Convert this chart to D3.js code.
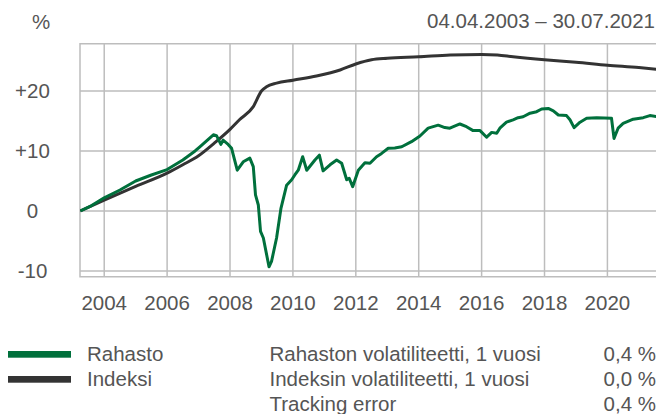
<!DOCTYPE html>
<html>
<head>
<meta charset="utf-8">
<script src="https://cdn.jsdelivr.net/npm/d3@7"></script>
<style>
  body { margin: 0; background: #fff; }
  text { font-family: "Liberation Sans", Arial, Helvetica, sans-serif; fill: #555; }
</style>
</head>
<body>
<div id="chart"></div>
<script>
// fund (Rahasto) cumulative return, %, by decimal year
var fundYears = [2003.24, 2003.6, 2004, 2004.5, 2005, 2005.5, 2006, 2006.5, 2006.89, 2007.04,
  2007.47, 2007.57, 2007.71, 2007.78, 2007.94, 2008.05, 2008.23, 2008.42, 2008.63, 2008.74,
  2008.81, 2008.90, 2008.97, 2009.06, 2009.24, 2009.32, 2009.48, 2009.62, 2009.80, 2009.96,
  2010.06, 2010.17, 2010.31, 2010.44, 2010.70, 2010.84, 2010.96, 2011.18, 2011.39, 2011.55,
  2011.71, 2011.79, 2011.90, 2012.08, 2012.29, 2012.45, 2012.66, 2012.82, 2013.03, 2013.24,
  2013.46, 2013.77, 2014.04, 2014.30, 2014.62, 2014.83, 2014.99, 2015.31, 2015.52, 2015.73,
  2015.95, 2016.16, 2016.32, 2016.48, 2016.58, 2016.79, 2017.0, 2017.16, 2017.32, 2017.54,
  2017.75, 2017.91, 2018.12, 2018.28, 2018.44, 2018.70, 2018.81, 2018.94, 2019.13, 2019.34,
  2019.66, 2020.13, 2020.21, 2020.34, 2020.50, 2020.82, 2021.14, 2021.35, 2021.58];
var fundValues = [0, 0.9, 2.2, 3.5, 5.0, 6.0, 6.9, 8.5, 10.0, 10.7,
  12.7, 12.55, 11.1, 11.8, 11.1, 10.45, 6.8, 8.2, 8.8, 7.4,
  2.7, 1.0, -3.4, -4.5, -9.3, -8.4, -4.5, 0.45, 4.3, 5.2,
  6.0, 6.8, 9.05, 6.8, 8.5, 9.3, 6.7, 7.7, 8.5, 7.95,
  5.2, 5.45, 4.05, 6.8, 8.05, 7.95, 9.05, 9.6, 10.45, 10.5,
  10.7, 11.55, 12.5, 13.8, 14.3, 13.9, 13.8, 14.5, 14.05, 13.4,
  13.4, 12.3, 13.1, 12.95, 13.8, 14.8, 15.2, 15.55, 15.7, 16.3,
  16.55, 17.0, 17.1, 16.7, 16.0, 15.9, 15.2, 13.9, 14.8, 15.45,
  15.55, 15.45, 12.1, 13.8, 14.6, 15.3, 15.55, 15.9, 15.7];

// index (Indeksi)
var indexYears = [2003.24, 2004, 2005, 2006, 2006.5, 2007, 2007.5, 2008, 2008.3, 2008.74,
  2009.0, 2009.16, 2009.48, 2010, 2010.75, 2011.2, 2011.5, 2012, 2012.5, 2013,
  2014, 2015, 2016, 2016.5, 2017, 2018, 2019, 2020, 2021, 2021.58];
var indexValues = [0, 1.8, 4.1, 6.3, 7.7, 9.2, 11.3, 13.6, 15.2, 17.4,
  20.0, 20.7, 21.3, 21.8, 22.5, 23.05, 23.5, 24.5, 25.2, 25.45,
  25.7, 26.0, 26.1, 26.0, 25.7, 25.2, 24.8, 24.3, 23.9, 23.6];

var yTicks = [-10, 0, 10, 20];
var yTickLabels = ["-10", "0", "+10", "+20"];
var xTicks = [2004, 2006, 2008, 2010, 2012, 2014, 2016, 2018, 2020];
var periodLabel = "04.04.2003 \u2013 30.07.2021";
var seriesNames = ["Rahasto", "Indeksi"];
var seriesColors = ["#00703c", "#333333"];
var statNames = ["Rahaston volatiliteetti, 1 vuosi", "Indeksin volatiliteetti, 1 vuosi", "Tracking error"];
var statValues = ["0,4 %", "0,0 %", "0,4 %"];

(function(){
  var width = 656, height = 414;
  var pLeft = 80, pRight = 656, pTop = 43.7, pBottom = 276.7;

  var svg = d3.select("#chart").append("svg")
    .attr("width", width)
    .attr("height", height);

  var x = d3.scaleLinear().domain([2003.23, 2021.545]).range([pLeft, pRight]);
  var y = d3.scaleLinear().domain([-10.95, 27.88]).range([pBottom, pTop]);

  // grid
  var grid = svg.append("g").attr("stroke", "#bdbdbd").attr("stroke-width", 1.5).attr("fill", "none");
  grid.selectAll("line.v").data(xTicks).enter().append("line")
    .attr("x1", function(d){ return x(d); }).attr("x2", function(d){ return x(d); })
    .attr("y1", pTop).attr("y2", pBottom);
  grid.selectAll("line.h").data(yTicks).enter().append("line")
    .attr("x1", pLeft).attr("x2", pRight)
    .attr("y1", function(d){ return y(d); }).attr("y2", function(d){ return y(d); });
  grid.append("path")
    .attr("d", "M" + pRight + "," + pTop + "H" + pLeft + "V" + pBottom + "H" + pRight);

  // axis labels
  svg.selectAll("text.yl").data(yTicks).enter().append("text")
    .attr("x", 32.5).attr("y", function(d){ return y(d); })
    .attr("dy", "0.36em")
    .attr("text-anchor", "middle")
    .style("font-size", "20.5px")
    .text(function(d, i){ return yTickLabels[i]; });

  svg.selectAll("text.xl").data(xTicks).enter().append("text")
    .attr("x", function(d){ return x(d); }).attr("y", 310)
    .attr("text-anchor", "middle")
    .style("font-size", "20.5px")
    .text(function(d){ return d; });

  svg.append("text").attr("x", 41).attr("y", 28.5)
    .attr("text-anchor", "middle").style("font-size", "20.5px").text("%");
  svg.append("text").attr("x", 655).attr("y", 28.3)
    .attr("text-anchor", "end").style("font-size", "20.5px").text(periodLabel);

  // lines
  svg.append("clipPath").attr("id", "plot")
    .append("rect").attr("x", pLeft).attr("y", pTop - 3).attr("width", pRight - pLeft).attr("height", pBottom - pTop + 6);

  var lineSmooth = d3.line()
    .curve(d3.curveMonotoneX)
    .x(function(d){ return x(d[0]); })
    .y(function(d){ return y(d[1]); });
  var lineRaw = d3.line()
    .x(function(d){ return x(d[0]); })
    .y(function(d){ return y(d[1]); });

  var plot = svg.append("g").attr("clip-path", "url(#plot)");

  plot.append("path")
    .datum(d3.zip(indexYears, indexValues))
    .attr("d", lineSmooth)
    .attr("fill", "none")
    .attr("stroke", seriesColors[1])
    .attr("stroke-width", 3);

  plot.append("path")
    .datum(d3.zip(fundYears, fundValues))
    .attr("d", lineRaw)
    .attr("fill", "none")
    .attr("stroke", seriesColors[0])
    .attr("stroke-width", 3)
    .attr("stroke-linejoin", "round");

  // legend
  var leg = svg.append("g");
  leg.selectAll("rect").data(seriesNames).enter().append("rect")
    .attr("x", 8).attr("y", function(d, i){ return 351 + i * 25; })
    .attr("width", 63).attr("height", 6.7)
    .attr("fill", function(d, i){ return seriesColors[i]; });
  leg.selectAll("text.n").data(seriesNames).enter().append("text")
    .attr("x", 87).attr("y", function(d, i){ return 360.5 + i * 25.3; })
    .style("font-size", "20.5px")
    .text(function(d){ return d; });
  leg.selectAll("text.s").data(statNames).enter().append("text")
    .attr("x", 269.5).attr("y", function(d, i){ return 360.5 + i * 25.3; })
    .style("font-size", "20.5px")
    .text(function(d){ return d; });
  leg.selectAll("text.v").data(statValues).enter().append("text")
    .attr("x", 656).attr("y", function(d, i){ return 360.5 + i * 25.3; })
    .attr("text-anchor", "end")
    .style("font-size", "20.5px")
    .text(function(d){ return d; });
})();
</script>
</body>
</html>
